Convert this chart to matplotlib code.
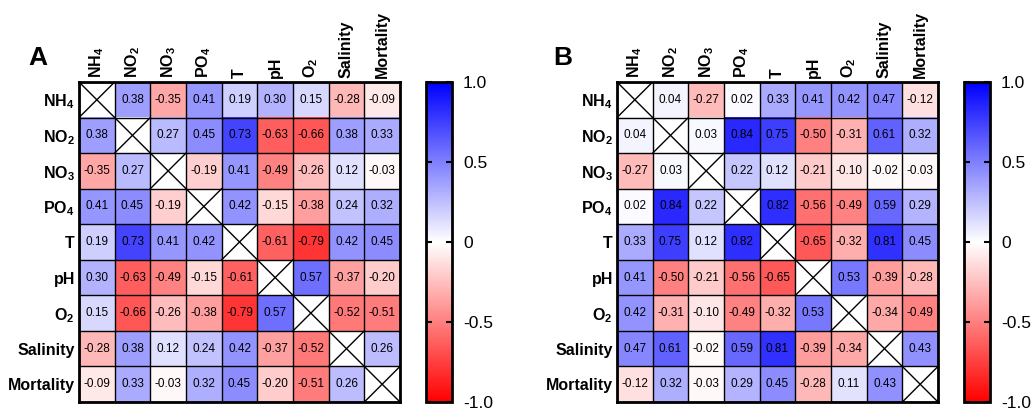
import numpy as np
import matplotlib as mpl
mpl.use("Agg")
import matplotlib.pyplot as plt
from matplotlib.colors import LinearSegmentedColormap

plt.rcParams['font.family'] = ['Liberation Sans', 'DejaVu Sans']
plt.rcParams['mathtext.fontset'] = 'custom'
plt.rcParams['mathtext.bf'] = 'Liberation Sans:bold'
plt.rcParams['mathtext.rm'] = 'Liberation Sans'
plt.rcParams['mathtext.default'] = 'bf'

labels = [r'NH$_4$', r'NO$_2$', r'NO$_3$', r'PO$_4$', 'T', 'pH', r'O$_2$', 'Salinity', 'Mortality']

# panel A (NaN = diagonal)
corr_a = [
    [np.nan, 0.38, -0.35, 0.41, 0.19, 0.30, 0.15, -0.28, -0.09],
    [0.38, np.nan, 0.27, 0.45, 0.73, -0.63, -0.66, 0.38, 0.33],
    [-0.35, 0.27, np.nan, -0.19, 0.41, -0.49, -0.26, 0.12, -0.03],
    [0.41, 0.45, -0.19, np.nan, 0.42, -0.15, -0.38, 0.24, 0.32],
    [0.19, 0.73, 0.41, 0.42, np.nan, -0.61, -0.79, 0.42, 0.45],
    [0.30, -0.63, -0.49, -0.15, -0.61, np.nan, 0.57, -0.37, -0.20],
    [0.15, -0.66, -0.26, -0.38, -0.79, 0.57, np.nan, -0.52, -0.51],
    [-0.28, 0.38, 0.12, 0.24, 0.42, -0.37, -0.52, np.nan, 0.26],
    [-0.09, 0.33, -0.03, 0.32, 0.45, -0.20, -0.51, 0.26, np.nan],
]

# panel B
corr_b = [
    [np.nan, 0.04, -0.27, 0.02, 0.33, 0.41, 0.42, 0.47, -0.12],
    [0.04, np.nan, 0.03, 0.84, 0.75, -0.50, -0.31, 0.61, 0.32],
    [-0.27, 0.03, np.nan, 0.22, 0.12, -0.21, -0.10, -0.02, -0.03],
    [0.02, 0.84, 0.22, np.nan, 0.82, -0.56, -0.49, 0.59, 0.29],
    [0.33, 0.75, 0.12, 0.82, np.nan, -0.65, -0.32, 0.81, 0.45],
    [0.41, -0.50, -0.21, -0.56, -0.65, np.nan, 0.53, -0.39, -0.28],
    [0.42, -0.31, -0.10, -0.49, -0.32, 0.53, np.nan, -0.34, -0.49],
    [0.47, 0.61, -0.02, 0.59, 0.81, -0.39, -0.34, np.nan, 0.43],
    [-0.12, 0.32, -0.03, 0.29, 0.45, -0.28, 0.11, 0.43, np.nan],
]

cbar_ticks = [-1.0, -0.5, 0, 0.5, 1.0]
cbar_labels = ['-1.0', '-0.5', '0', '0.5', '1.0']

cmap = LinearSegmentedColormap.from_list('rwb', ['#ff0000', '#ffffff', '#0000ff'])
cmap.set_bad('white')

W, H = 1033, 408
fig = plt.figure(figsize=(W/100, H/100), dpi=100)


def panel(data, x0, cbx0, letter, letter_x):
    data = np.ma.masked_invalid(np.array(data))
    n = data.shape[0]
    ax = fig.add_axes([x0/W, 6/H, 321/W, 320/H])
    im = ax.imshow(data, cmap=cmap, vmin=-1, vmax=1, aspect='auto')
    for k in range(n + 1):
        ax.axhline(k - 0.5, color='k', lw=1)
        ax.axvline(k - 0.5, color='k', lw=1)
    for i in range(n):
        for j in range(n):
            if data.mask[i, j]:
                ax.plot([j-0.5, j+0.5], [i-0.5, i+0.5], color='k', lw=1)
                ax.plot([j-0.5, j+0.5], [i+0.5, i-0.5], color='k', lw=1)
            else:
                ax.text(j, i, '%.2f' % data[i, j], ha='center', va='center', fontsize=8.5)
    ax.set_xlim(-0.5, n-0.5)
    ax.set_ylim(n-0.5, -0.5)
    ax.set_xticks(range(n))
    ax.set_yticks(range(n))
    ax.xaxis.tick_top()
    ax.set_xticklabels(labels, rotation=90, fontsize=11.5, fontweight='bold')
    ax.set_yticklabels(labels, fontsize=11.5, fontweight='bold')
    ax.tick_params(length=0, pad=3)
    for s in ax.spines.values():
        s.set_linewidth(2)

    cax = fig.add_axes([cbx0/W, 6/H, 26/W, 320/H])
    cb = fig.colorbar(im, cax=cax)
    cb.set_ticks(cbar_ticks)
    cb.set_ticklabels(cbar_labels)
    cb.outline.set_linewidth(2)
    cax.tick_params(direction='in', left=True, right=True, length=4, width=1.5,
                    labelsize=12.5, pad=8)

    fig.text(letter_x/W, 1 - 58/H, letter, fontsize=19, fontweight='bold',
             ha='center', va='center')


panel(corr_a, 79, 426, 'A', 37.5)
panel(corr_b, 617, 964, 'B', 563)

plt.savefig('out.png', dpi=100)
plt.close()
